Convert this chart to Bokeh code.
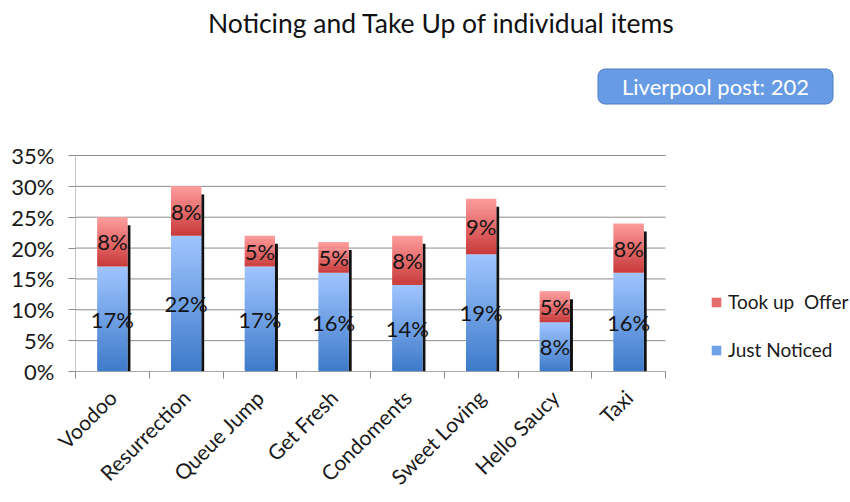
import math
from bokeh.plotting import figure
from bokeh.models import (Range1d, FixedTicker, NumeralTickFormatter, Label,
                          Legend, LegendItem, ColumnDataSource)
from bokeh.core.properties import value
from bokeh.embed import file_html
from bokeh.resources import INLINE

# --- data -------------------------------------------------------------
items = ["Voodoo", "Resurrection", "Queue Jump", "Get Fresh", "Condoments",
         "Sweet Loving", "Hello Saucy", "Taxi"]
just_noticed = [17, 22, 17, 16, 14, 19, 8, 16]      # percent
took_up_offer = [8, 8, 5, 5, 8, 9, 5, 8]            # percent
y_ticks = [0, 5, 10, 15, 20, 25, 30, 35]
sample_note = "Liverpool post: 202"

FONT = "Lato"
BAR_W = 0.41
STRIPS = 40
GRID = "#8c8c8c"


def hex_to_rgb(h):
    h = h.lstrip("#")
    return tuple(int(h[i:i + 2], 16) for i in (0, 2, 4))


def blend(c0, c1, t):
    a, b = hex_to_rgb(c0), hex_to_rgb(c1)
    return "#%02x%02x%02x" % tuple(round(a[i] + (b[i] - a[i]) * t) for i in range(3))


def gradient_strips(xs, bottoms, tops, dark, light):
    """Split each segment into thin overlapping strips shaded dark->light."""
    x, b, t, c = [], [], [], []
    for xi, lo, hi in zip(xs, bottoms, tops):
        step = (hi - lo) / STRIPS
        for k in range(STRIPS):
            x.append(xi)
            b.append(lo + k * step)
            t.append(min(hi, lo + (k + 1.6) * step))
            c.append(blend(dark, light, (k + 0.5) / STRIPS))
    return dict(x=x, bottom=b, top=t, color=c)


n = len(items)
xpos = [i + 0.5 for i in range(n)]
jn = [v / 100 for v in just_noticed]
tu = [v / 100 for v in took_up_offer]
totals = [a + b for a, b in zip(jn, tu)]
y_max = y_ticks[-1] / 100

# The frame spans the whole area right of / above the axes, so the title,
# the badge and the legend can sit inside it; the value axis stops at 35%.
p = figure(width=850, height=502, output_backend="svg", toolbar_location=None,
           x_range=Range1d(0, n * 775 / 590), y_range=Range1d(0, y_max * 371 / 216),
           min_border_left=75, min_border_right=0,
           min_border_top=0, min_border_bottom=131,
           background_fill_color="white", border_fill_color="white",
           outline_line_color=None)

# horizontal gridlines and axis lines limited to the category span
p.segment(x0=[0] * len(y_ticks), x1=[n] * len(y_ticks),
          y0=[v / 100 for v in y_ticks], y1=[v / 100 for v in y_ticks],
          line_color=GRID, line_width=1)
p.segment(x0=[0], x1=[0], y0=[0], y1=[y_max], line_color=GRID, line_width=1)

# drop shadow on the right edge of each bar
p.quad(left=[x + BAR_W / 2 for x in xpos], right=[x + BAR_W / 2 + 0.04 for x in xpos],
       bottom=[0] * n, top=[t - 0.013 for t in totals],
       fill_color="#111111", line_color=None)

# stacked gradient bars
blue = gradient_strips(xpos, [0] * n, jn, "#3d7ac9", "#a0c5ff")
red = gradient_strips(xpos, jn, totals, "#c8393a", "#ff9d9d")
r_blue = p.vbar(x="x", bottom="bottom", top="top", width=BAR_W, fill_color="color",
                line_color=None, source=ColumnDataSource(blue))
r_red = p.vbar(x="x", bottom="bottom", top="top", width=BAR_W, fill_color="color",
               line_color=None, source=ColumnDataSource(red))

# value labels centred in each segment
lab = ColumnDataSource(dict(
    x=xpos + xpos,
    y=[v / 2 for v in jn] + [a + b / 2 for a, b in zip(jn, tu)],
    text=["%d%%" % v for v in just_noticed] + ["%d%%" % v for v in took_up_offer]))
p.text(x="x", y="y", text="text", source=lab, text_align="center",
       text_baseline="middle", text_font=value(FONT), text_font_size="22px",
       text_color="#141414")

# axes
p.yaxis.ticker = FixedTicker(ticks=[v / 100 for v in y_ticks])
p.yaxis.formatter = NumeralTickFormatter(format="0%")
p.yaxis.major_label_text_font = FONT
p.yaxis.major_label_text_font_size = "22px"
p.yaxis.major_label_text_color = "#1a1a1a"
p.yaxis.axis_line_color = None
p.yaxis.major_tick_line_color = GRID
p.yaxis.major_tick_out = 7
p.yaxis.major_tick_in = 0
p.yaxis.minor_tick_line_color = None
p.yaxis.major_label_standoff = 14

p.xaxis.ticker = FixedTicker(ticks=xpos, minor_ticks=list(range(n + 1)))
p.xaxis.major_label_overrides = {x: name for x, name in zip(xpos, items)}
p.xaxis.major_label_orientation = math.pi / 4
p.xaxis.major_label_text_font = FONT
p.xaxis.major_label_text_font_size = "21px"
p.xaxis.major_label_text_color = "#1a1a1a"
p.xaxis.major_tick_line_color = None
p.xaxis.minor_tick_line_color = GRID
p.xaxis.minor_tick_out = 7
p.xaxis.minor_tick_in = 0
p.xaxis.axis_line_color = None
p.xaxis.major_label_standoff = 15
p.segment(x0=[0], x1=[n], y0=[0], y1=[0], line_color=GRID, line_width=1)

p.xgrid.grid_line_color = None
p.ygrid.grid_line_color = None

# legend
legend = Legend(items=[LegendItem(label="Took up  Offer", renderers=[r_red], index=STRIPS // 2),
                       LegendItem(label="Just Noticed", renderers=[r_blue], index=STRIPS // 2)],
                location=(635, 10), background_fill_alpha=0, border_line_color=None,
                label_text_font=FONT, label_text_font_size="19px",
                label_text_color="#1a1a1a", glyph_width=12, glyph_height=12,
                label_height=20, spacing=25, padding=0, margin=0,
                label_standoff=6)
p.add_layout(legend, "center")

# title and sample-size badge
p.add_layout(Label(x=441, y=22, x_units="canvas", y_units="canvas",
                   text="Noticing and Take Up of individual items",
                   text_font=FONT, text_font_size="26.5px", text_color="#111111",
                   text_align="center", text_baseline="middle"))
p.add_layout(Label(x=715, y=86, x_units="canvas", y_units="canvas",
                   text=sample_note, text_font=FONT, text_font_size="22px",
                   text_color="white", text_align="center", text_baseline="middle",
                   background_fill_color="#679be4", border_line_color="#4a7cc4",
                   border_radius=7, padding=(24, 4)))

open("out.html", "w").write(file_html(p, INLINE))
